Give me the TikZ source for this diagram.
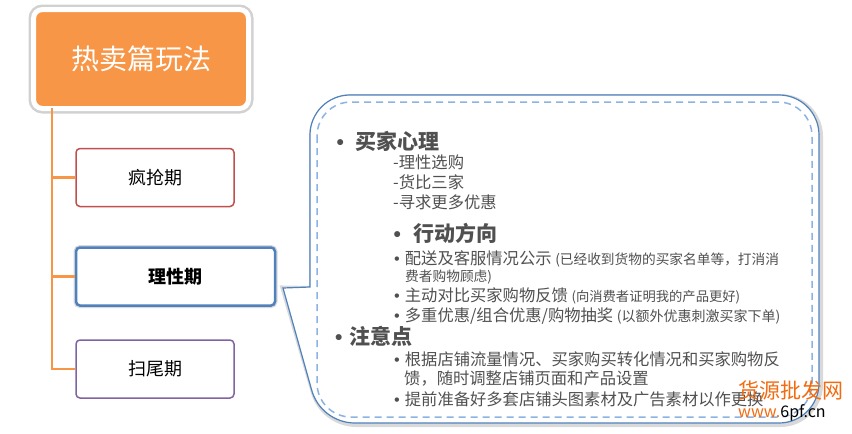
\documentclass[tikz,border=0pt]{standalone}
\usepackage{fontspec}
\setmainfont{Noto Sans CJK SC}
\newfontfamily\dotfont{Liberation Sans}
\definecolor{hotorange}{HTML}{F79646}
\definecolor{rushred}{HTML}{C0504D}
\definecolor{calmblue}{HTML}{4F81BD}
\definecolor{tailpurple}{HTML}{8064A2}
\definecolor{dashblue}{HTML}{8DB3E2}
\definecolor{textgray}{HTML}{505050}
\definecolor{markorange}{HTML}{F26B0F}
\newcommand{\dotmark}{{\dotfont •}}
\newcommand{\smallnote}[2]{{\fontsize{#1}{#1}\selectfont #2}}

\begin{document}
\begin{tikzpicture}[x=1pt, y=-1pt,
	every node/.style={inner sep=0pt},
	titlebox/.style={fill=hotorange, draw=white, line width=5pt, rounded corners=9pt,
		minimum width=215pt, minimum height=99pt, text=white,
		font=\fontsize{28}{28}\selectfont, preaction={draw=black!18, line width=10pt}},
	stagebox/.style={draw, fill=white, rounded corners=4pt, line width=1.5pt,
		minimum height=58pt, text=black, font=\fontsize{18}{18}\selectfont},
	branch/.style={draw=hotorange, line width=2.5pt},
	head/.style={anchor=west, text=textgray, font=\fontsize{21}{21}\selectfont\bfseries},
	item/.style={anchor=west, text=textgray, font=\fontsize{16.3}{16.3}\selectfont},
	]
	\useasboundingbox (0,0) rectangle (852,434);
	
	% left column
	\node[titlebox] (title) at (141,59) {热卖篇玩法};
	\coordinate (trunk) at (52,108);
	\node[stagebox, draw=rushred, minimum width=158pt] (rush) at (155,177.5) {疯抢期};
	\node[stagebox, draw=calmblue, line width=2.5pt, minimum width=199pt, font=\fontsize{18}{18}\selectfont\bfseries,
		preaction={draw=black!15, line width=5pt}] (calm) at (175.5,276.5) {理性期};
	\node[stagebox, draw=tailpurple, minimum width=158pt] (tail) at (155,369) {扫尾期};
	\draw[branch] (trunk) |- (tail.west);
	\draw[branch] (trunk) |- (rush.west);
	\draw[branch] (trunk) |- (calm.west);
	
	% callout
	\coordinate (tip) at (283,288);
	\def\bubble{(tip) -- (310,287) -- (310,135) arc[start angle=180, end angle=270, radius=40]
		-- (779,95) arc[start angle=270, end angle=360, radius=40]
		-- (819,383) arc[start angle=0, end angle=90, radius=40]
		-- (355,423) arc[start angle=90, end angle=165, radius=45] -- cycle}
	\draw[black!15, line width=5pt, shift={(1.5,1.5)}] \bubble;
	\draw[calmblue, fill=white, line width=1.2pt] \bubble;
	\draw[dashblue, line width=1.5pt, dash pattern=on 7pt off 5pt, rounded corners=34pt] (317,102) rectangle (812,417);
	
	\node[head] (buyer) at (336.5,141) {\dotmark\hspace{11pt}买家心理};
	\node[item] (m1) at (393,162) {-理性选购};
	\node[item] (m2) at (393,182) {-货比三家};
	\node[item] (m3) at (393,202) {-寻求更多优惠};
	\node[head] (act) at (393.5,233) {\dotmark\hspace{12pt}行动方向};
	\node[item] (a1) at (394,259) {\dotmark\hspace{5pt}配送及客服情况公示 \smallnote{13.7}{(已经收到货物的买家名单等，打消消}};
	\node[item] (a1b) at (405,277) {\smallnote{13.7}{费者购物顾虑)}};
	\node[item] (a2) at (394,296) {\dotmark\hspace{5pt}主动对比买家购物反馈 \smallnote{13.3}{(向消费者证明我的产品更好)}};
	\node[item] (a3) at (394,316) {\dotmark\hspace{5pt}多重优惠/组合优惠/购物抽奖 \smallnote{14}{(以额外优惠刺激买家下单)}};
	\node[head] (care) at (335,336) {\dotmark\hspace{7pt}注意点};
	\node[item] (c1) at (394,359) {\dotmark\hspace{5pt}根据店铺流量情况、买家购买转化情况和买家购物反};
	\node[item] (c1b) at (404,379) {馈，随时调整店铺页面和产品设置};
	\node[item] (c2) at (394,399) {\dotmark\hspace{5pt}提前准备好多套店铺头图素材及广告素材以作更换};
	
	% site mark
	\node[anchor=west, text=markorange, font=\fontsize{21}{21}\selectfont] (mark) at (738,390) {货源批发网};
	\node[anchor=west, font=\fontsize{16}{16}\selectfont] (site) at (738,413) {\textcolor{markorange}{www.}6pf.cn};
\end{tikzpicture}
\end{document}
